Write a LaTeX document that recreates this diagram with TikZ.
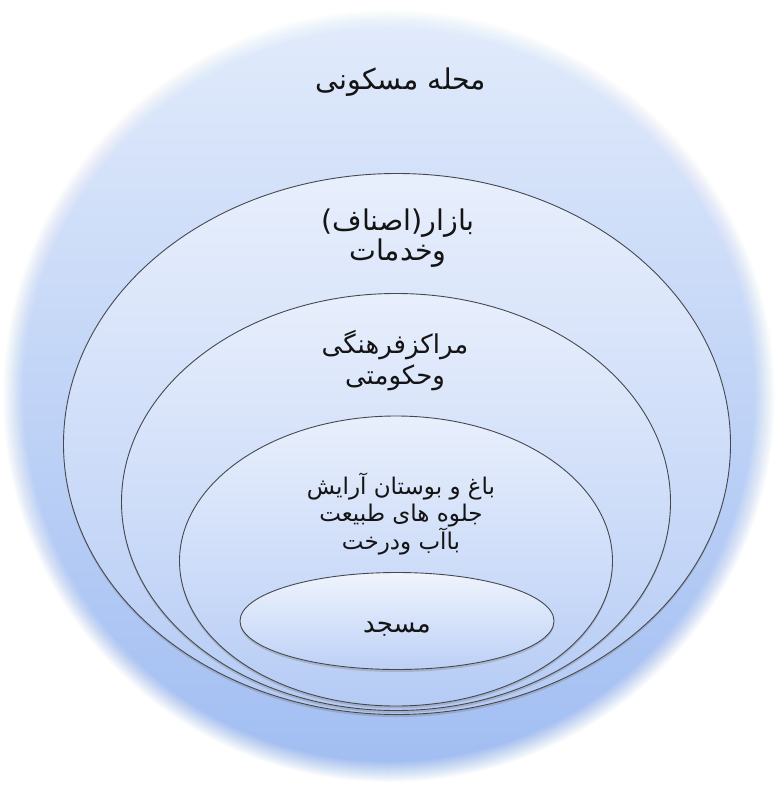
\documentclass[tikz,border=0pt]{standalone}
\usepackage{fontspec}
\TeXXeTstate=1
\newfontfamily\arabicfont[Script=Arabic]{DejaVu Sans}
\usetikzlibrary{shapes.geometric,shadows}
\definecolor{outertop}{HTML}{E0EAFB}
\definecolor{outerbot}{HTML}{A2BEF2}
\definecolor{elltop}{HTML}{E8EFFC}
\definecolor{ellbot}{HTML}{B5CBF5}
\definecolor{edge}{HTML}{45494F}
\definecolor{txt}{HTML}{141414}
\tikzset{
  ring/.style={ellipse, draw=edge, line width=0.9pt, top color=elltop, bottom color=ellbot,
    drop shadow={opacity=0.35, shadow xshift=0pt, shadow yshift=-2.5pt}},
  lab/.style={align=center, text=txt, font=\arabicfont\fontsize{26}{31}\selectfont, inner sep=0pt},
  labbig/.style={align=center, text=txt, font=\arabicfont\fontsize{28.5}{30}\selectfont, inner sep=0pt},
  labsmall/.style={align=center, text=txt, font=\arabicfont\fontsize{23}{26.5}\selectfont, inner sep=0pt}
}
\begin{document}
\begin{tikzpicture}[x=1pt,y=-1pt]
\useasboundingbox (0,0) rectangle (778,789);
\fill[white] (0,0) rectangle (778,789);
% soft-edged backdrop disc: stacked translucent discs giving a linear fade
\foreach \k in {1,...,22}{
  \pgfmathsetmacro{\rr}{387-\k}
  \pgfmathsetmacro{\al}{1/(23-\k)}
  \shade[top color=outertop, bottom color=outerbot, fill opacity=\al] (389,396) circle (\rr);
}
\node[ring, minimum width=667pt, minimum height=541pt] (bazaar) at (397,444) {};
\node[ring, minimum width=549pt, minimum height=417pt] (markaz) at (396,502) {};
\node[ring, minimum width=433pt, minimum height=290pt] (bagh) at (396,561) {};
\node[ring, minimum width=314pt, minimum height=97pt, top color=white!30!elltop, bottom color=white!10!ellbot] (masjid) at (397,621) {};
\node[labbig] (t0) at (401,82) {\beginR محله مسکونی\endR};
\node[labbig] (t1) at (398,238) {\beginR بازار(اصناف)\endR\\\beginR وخدمات\endR};
\node[lab] (t2) at (395,361) {\beginR مراکزفرهنگی\endR\\\beginR وحکومتی\endR};
\node[labsmall] (t3) at (401,514) {\beginR باغ و بوستان آرایش\endR\\\beginR جلوه های طبیعت\endR\\\beginR باآب ودرخت\endR};
\node[lab] (t4) at (397,629) {\beginR مسجد\endR};
\end{tikzpicture}
\end{document}
